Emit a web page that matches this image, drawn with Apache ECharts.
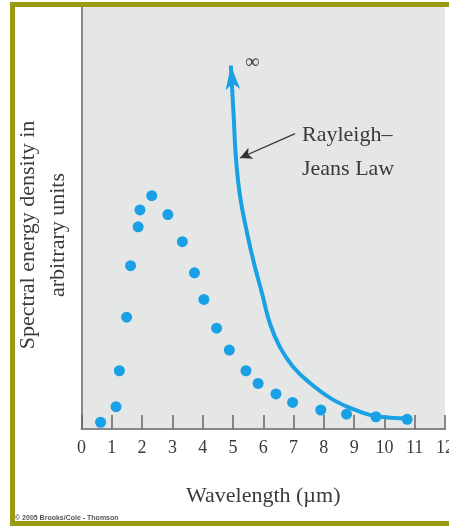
<!DOCTYPE html>
<html>
<head>
<meta charset="utf-8">
<script src="https://cdn.jsdelivr.net/npm/echarts@6/dist/echarts.min.js"></script>
<style>
  html, body { margin: 0; padding: 0; background: #fff; }
  #main { position: absolute; left: 0; top: 0; width: 449px; height: 526px; }
  #frame {
    position: absolute; left: 10px; top: 2px; width: 470px; height: 524px;
    box-sizing: border-box; border: 5px solid #9a9a14; border-right: none;
    pointer-events: none; z-index: 2;
  }
</style>
</head>
<body>
<div id="main"></div>
<div id="frame"></div>
<script>
// measured spectrum (dots)
var dotX = [0.63, 1.14, 1.25, 1.49, 1.62, 1.87, 1.93, 2.32, 2.85, 3.33, 3.73, 4.04, 4.46, 4.88, 5.43, 5.83, 6.42, 6.97, 7.90, 8.75, 9.72, 10.75];
var dotY = [1.6, 5.3, 13.8, 26.5, 38.7, 47.9, 51.9, 55.3, 50.8, 44.4, 37.0, 30.7, 23.9, 18.7, 13.8, 10.8, 8.3, 6.3, 4.5, 3.5, 2.9, 2.3];

// Rayleigh-Jeans curve (first point = arrow tip)
var rjX = [4.93, 5.03, 5.08, 5.165, 5.28, 5.445, 5.67, 5.98, 6.22, 6.55, 6.99, 7.54, 8.31, 9.19, 9.69, 10.78];
var rjY = [86.1, 73.2, 66.1, 59.0, 53.1, 47.2, 40.0, 31.6, 25.0, 19.4, 14.7, 10.9, 6.9, 4.1, 3.1, 2.5];

// pointer from the label to the curve
var pointerFrom = [7.05, 70.0];
var pointerTo = [5.23, 64.2];

var blue = '#1aa0e4';
var ink = '#3a3a3a';
var serif = "'Liberation Serif', 'Times New Roman', serif";

var dots = dotX.map(function (x, i) { return [x, dotY[i]]; });
var curve = rjX.map(function (x, i) {
  if (i === 0) {
    return { value: [x, rjY[i]], symbol: 'arrow', symbolSize: [11, 24], symbolRotate: 5 };
  }
  return [x, rjY[i]];
});

var chartDom = document.getElementById('main');
var myChart = echarts.init(chartDom);
var option = {
  backgroundColor: '#fff',
  animation: false,
  grid: {
    left: 81.5,
    right: 4,
    top: 7,
    bottom: 97,
    outerBoundsMode: 'none',
    show: true,
    backgroundColor: '#e5e6e6',
    borderWidth: 0
  },
  xAxis: {
    type: 'value',
    min: 0,
    max: 12,
    interval: 1,
    name: 'Wavelength (\u00b5m)',
    nameLocation: 'middle',
    nameGap: 56,
    nameTextStyle: { fontFamily: serif, fontSize: 22, color: ink },
    axisLine: { lineStyle: { color: '#888', width: 2 } },
    axisTick: { inside: true, length: 14, lineStyle: { color: '#666', width: 1.5 } },
    axisLabel: { fontFamily: serif, fontSize: 18, color: ink, margin: 10 },
    splitLine: { show: false }
  },
  yAxis: {
    type: 'value',
    min: 0,
    max: 100,
    name: 'Spectral energy density in\narbitrary units',
    nameLocation: 'middle',
    nameRotate: 90,
    nameGap: 8,
    nameTextStyle: { fontFamily: serif, fontSize: 22, color: ink, lineHeight: 30, padding: [0, 34, 0, 0] },
    axisLine: { show: true, lineStyle: { color: '#888', width: 2 } },
    axisTick: { show: false },
    axisLabel: { show: false },
    splitLine: { show: false }
  },
  series: [
    {
      name: 'Rayleigh-Jeans',
      type: 'line',
      data: curve,
      symbol: 'none',
      smooth: 0.45,
      lineStyle: { color: blue, width: 4 },
      itemStyle: { color: blue },
      markLine: {
        silent: true,
        symbol: ['none', 'arrow'],
        symbolSize: [9, 12],
        label: { show: false },
        lineStyle: { color: '#333', width: 1.2, type: 'solid' },
        data: [[{ coord: pointerFrom }, { coord: pointerTo }]]
      }
    },
    {
      name: 'Spectrum',
      type: 'scatter',
      data: dots,
      symbolSize: 11,
      itemStyle: { color: blue, opacity: 1 }
    }
  ],
  graphic: [
    { type: 'text', left: 245, top: 53, style: { text: '\u221e', font: '20px ' + serif, fill: ink } },
    { type: 'text', left: 302, top: 124, style: { text: 'Rayleigh\u2013', font: '22px ' + serif, fill: ink } },
    { type: 'text', left: 302, top: 158, style: { text: 'Jeans Law', font: '22px ' + serif, fill: ink } },
    { type: 'text', left: 15, top: 515, style: { text: '\u00a9 2005 Brooks/Cole - Thomson', font: 'bold 7px Arial, sans-serif', fill: '#555' } }
  ]
};
myChart.setOption(option);
</script>
</body>
</html>
